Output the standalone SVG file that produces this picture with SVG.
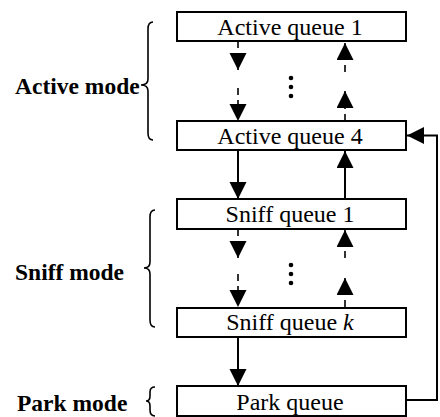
<svg xmlns="http://www.w3.org/2000/svg" width="440" height="417" viewBox="0 0 440 417">
<style>
.box{fill:#fff;stroke:#000;stroke-width:2}
.lbl{font-family:"Liberation Serif","Times New Roman",serif;font-size:24px;fill:#000;text-anchor:middle}
.mode{font-family:"Liberation Serif","Times New Roman",serif;font-size:23.5px;font-weight:bold;fill:#000}
.ln{fill:none;stroke:#000;stroke-width:2}
.dash{fill:none;stroke:#000;stroke-width:1.6;stroke-dasharray:7,5}
.brace{fill:none;stroke:#000;stroke-width:1.6}
.dot{fill:#000}
</style>
<defs>
<marker id="ah" markerUnits="userSpaceOnUse" markerWidth="19" markerHeight="18" refX="17" refY="8.5" orient="auto">
<path d="M0,0 L17,8.5 L0,17 z" fill="#000"/>
</marker>
</defs>
<rect width="440" height="417" fill="#fff"/>
<g id="connectors">
<line class="dash" x1="238" y1="41" x2="238" y2="70" marker-end="url(#ah)"/>
<line class="dash" x1="238" y1="88" x2="238" y2="121" marker-end="url(#ah)"/>
<line class="dash" x1="345" y1="72" x2="345" y2="43" marker-end="url(#ah)"/>
<line class="dash" x1="345" y1="121" x2="345" y2="91" marker-end="url(#ah)"/>
<line class="ln" x1="238" y1="150" x2="238" y2="199" marker-end="url(#ah)"/>
<line class="ln" x1="345" y1="199" x2="345" y2="151" marker-end="url(#ah)"/>
<line class="dash" x1="238" y1="229" x2="238" y2="258" marker-end="url(#ah)"/>
<line class="dash" x1="238" y1="274" x2="238" y2="307" marker-end="url(#ah)"/>
<line class="dash" x1="345" y1="258" x2="345" y2="230" marker-end="url(#ah)"/>
<line class="dash" x1="345" y1="307" x2="345" y2="278" marker-end="url(#ah)"/>
<line class="ln" x1="238" y1="337" x2="238" y2="386" marker-end="url(#ah)"/>
<polyline class="ln" points="406,400 437,400 437,135.5 407,135.5" marker-end="url(#ah)"/>
</g>
<g id="dots">
<circle class="dot" cx="291" cy="78" r="2.3"/>
<circle class="dot" cx="291" cy="87" r="2.3"/>
<circle class="dot" cx="291" cy="96" r="2.3"/>
<circle class="dot" cx="291" cy="265" r="2.3"/>
<circle class="dot" cx="291" cy="274" r="2.3"/>
<circle class="dot" cx="291" cy="283" r="2.3"/>
</g>
<g id="active-queue-1"><rect class="box" x="177" y="12" width="229" height="29"/><text class="lbl" x="290" y="35">Active queue 1</text></g>
<g id="active-queue-4"><rect class="box" x="177" y="121" width="229" height="29"/><text class="lbl" x="290" y="144">Active queue 4</text></g>
<g id="sniff-queue-1"><rect class="box" x="177" y="199" width="229" height="30"/><text class="lbl" x="290" y="222">Sniff queue 1</text></g>
<g id="sniff-queue-k"><rect class="box" x="177" y="308" width="229" height="29"/><text class="lbl" x="290" y="330">Sniff queue <tspan font-style="italic">k</tspan></text></g>
<g id="park-queue"><rect class="box" x="177" y="386" width="229" height="30"/><text class="lbl" x="290" y="410">Park queue</text></g>
<g id="active-mode">
<text class="mode" x="15" y="94">Active mode</text>
<path class="brace" d="M153,22 Q148,22 148,29 L148,79 Q148,85 141,85 Q148,85 148,91 L148,133 Q148,140 153,140"/>
</g>
<g id="sniff-mode">
<text class="mode" x="15" y="280">Sniff mode</text>
<path class="brace" d="M155,210 Q150,210 150,217 L150,262 Q150,268 144,268 Q150,268 150,274 L150,320 Q150,327 155,327"/>
</g>
<g id="park-mode">
<text class="mode" x="17" y="411">Park mode</text>
<path class="brace" d="M155,387 Q150,387 150,392 L150,396 Q150,401 146,401 Q150,401 150,406 L150,410 Q150,416 155,416"/>
</g>
</svg>
